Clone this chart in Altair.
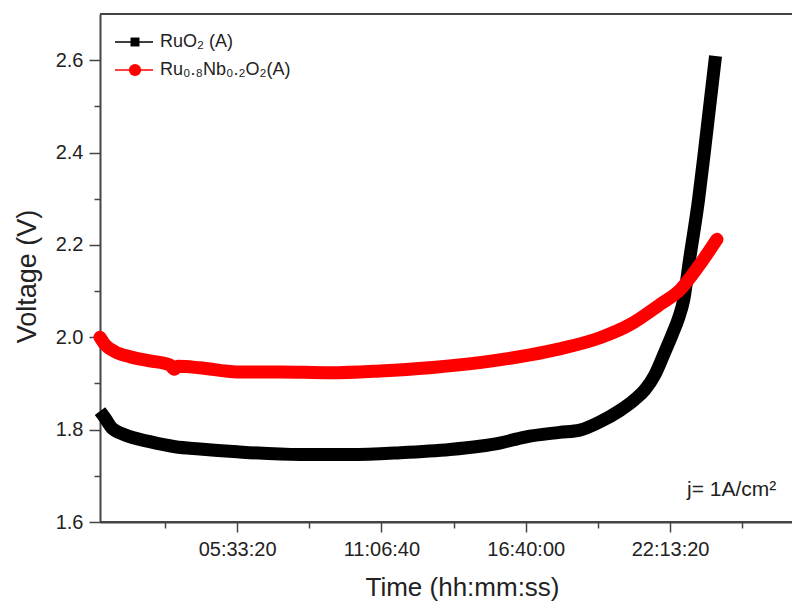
import altair as alt
import pandas as pd

# ---- data (time in seconds, voltage in V) ----
ruo2_time = [1000, 1700, 2600, 4400, 7900, 11400, 14800, 20000, 28700, 35600, 42600,
             49500, 53600, 56400, 59900, 64700, 67500, 70300, 73000, 75100, 76500,
             77900, 79300, 80300, 81100, 81900, 82700, 83950, 84800, 85600, 86300]
ruo2_volt = [1.840, 1.825, 1.804, 1.789, 1.774, 1.763, 1.758, 1.752, 1.746, 1.746, 1.750,
             1.757, 1.764, 1.771, 1.784, 1.794, 1.799, 1.817, 1.841, 1.865, 1.886,
             1.919, 1.969, 2.006, 2.038, 2.082, 2.168, 2.298, 2.407, 2.515, 2.609]

runb_time = [1000, 1700, 3050, 5130, 7900, 10700, 11300, 11800, 14800, 20000, 25900,
             32900, 39800, 46700, 53600, 60600, 64700, 70300, 74400, 78600, 81400,
             84100, 86500]
runb_volt = [2.000, 1.984, 1.969, 1.958, 1.949, 1.940, 1.931, 1.937, 1.934, 1.925, 1.925,
             1.923, 1.927, 1.934, 1.945, 1.962, 1.975, 1.999, 2.027, 2.071, 2.103,
             2.157, 2.212]

series_names = ["RuO₂ (A)", "Ru₀.₈Nb₀.₂O₂(A)"]
series_colors = ["#000000", "#ff0000"]
series_shapes = ["square", "circle"]
series_sizes = [80, 150]

x_tick_values = [10000, 20000, 30000, 40000, 50000, 60000, 70000, 80000, 90000]
x_major_values = [20000, 40000, 60000, 80000]
x_major_labels = ["05:33:20", "11:06:40", "16:40:00", "22:13:20"]
y_tick_values = [1.6, 1.7, 1.8, 1.9, 2.0, 2.1, 2.2, 2.3, 2.4, 2.5, 2.6]

annotation_text = "j= 1A/cm²"

FONT = "Liberation Sans"
W, H = 692, 508

x_label_expr = " : ".join(
    f"datum.value == {v} ? '{l}'" for v, l in zip(x_major_values, x_major_labels)
) + " : ''"

x_scale = alt.Scale(domain=[1000, 96900], nice=False, zero=False)
y_scale = alt.Scale(domain=[1.6, 2.7], nice=False, zero=False)

x_axis = alt.Axis(
    values=x_tick_values,
    labelExpr=x_label_expr,
    tickSize={"condition": {"test": "datum.value % 20000 == 0", "value": 10}, "value": 6},
    labelPadding=7,
    labelFontSize=20,
    labelFont=FONT,
    labelColor="#222",
    labelFlush=False,
    title="Time (hh:mm:ss)",
    titleFont=FONT,
    titleFontSize=26,
    titleFontWeight="normal",
    titleColor="#222",
    titleX=362,
    titleY=73,
    titleBaseline="alphabetic",
    titleAlign="center",
    grid=False,
)
y_axis = alt.Axis(
    values=y_tick_values,
    format=".1f",
    labelExpr="round(datum.value*10) % 2 == 0 ? datum.label : ''",
    tickSize={"condition": {"test": "round(datum.value*10) % 2 == 0", "value": 11}, "value": 6},
    labelPadding=6,
    labelFontSize=20,
    labelFont=FONT,
    labelColor="#222",
    labelFlush=False,
    title="Voltage (V)",
    titleFont=FONT,
    titleFontSize=27,
    titleFontWeight="normal",
    titleColor="#222",
    titleAngle=270,
    titleX=-65,
    titleY=262,
    titleBaseline="alphabetic",
    titleAlign="center",
    grid=False,
)

df_a = pd.DataFrame({"t": ruo2_time, "v": ruo2_volt})
df_b = pd.DataFrame({"t": runb_time, "v": runb_volt})

line_a = alt.Chart(df_a).mark_line(
    color=series_colors[0], strokeWidth=13, strokeJoin="round", strokeCap="butt",
    interpolate="monotone",
).encode(
    x=alt.X("t:Q", scale=x_scale, axis=x_axis),
    y=alt.Y("v:Q", scale=y_scale, axis=y_axis),
)
line_b = alt.Chart(df_b).mark_line(
    color=series_colors[1], strokeWidth=13, strokeJoin="round", strokeCap="round",
    interpolate="monotone",
).encode(
    x=alt.X("t:Q", scale=x_scale),
    y=alt.Y("v:Q", scale=y_scale),
)

# top frame line and bottom axis extension to the right edge
frame_df = pd.DataFrame({"k": [0]})
top_frame = alt.Chart(frame_df).mark_rule(color="#444", strokeWidth=2).encode(
    x=alt.value(0), x2=alt.value(W + 10), y=alt.value(0)
)
bottom_ext = alt.Chart(frame_df).mark_rule(color="#444", strokeWidth=2).encode(
    x=alt.value(0), x2=alt.value(W + 10), y=alt.value(H)
)

# manual legend (one row per series)
legend_layers = []
row_y = [28, 56]
for i, name in enumerate(series_names):
    row_df = pd.DataFrame({"name": [name]})
    legend_layers.append(
        alt.Chart(row_df).mark_rule(strokeWidth=1.5, color=series_colors[i]).encode(
            x=alt.value(15), x2=alt.value(53), y=alt.value(row_y[i])
        )
    )
    legend_layers.append(
        alt.Chart(row_df).mark_point(
            filled=True, opacity=1, color=series_colors[i],
            shape=series_shapes[i], size=series_sizes[i],
        ).encode(x=alt.value(35), y=alt.value(row_y[i]))
    )
    legend_layers.append(
        alt.Chart(row_df).mark_text(
            align="left", baseline="middle", font=FONT, fontSize=18, color="#222"
        ).encode(x=alt.value(60), y=alt.value(row_y[i]), text="name:N")
    )

ann_df = pd.DataFrame({"text": [annotation_text]})
ann = alt.Chart(ann_df).mark_text(
    align="left", baseline="middle", font=FONT, fontSize=21, color="#222"
).encode(x=alt.value(587), y=alt.value(476), text="text:N")

chart = alt.layer(line_a, line_b, top_frame, bottom_ext, *legend_layers, ann).properties(
    width=W,
    height=H,
    autosize=alt.AutoSizeParams(type="none"),
    padding={"left": 92, "top": 6, "right": 0, "bottom": 79},
).configure_view(stroke=None).configure_axis(
    domainColor="#444", domainWidth=2, tickColor="#444", tickWidth=1.5
)

chart.save("out.html", embed_options={"renderer": "svg", "actions": False})
